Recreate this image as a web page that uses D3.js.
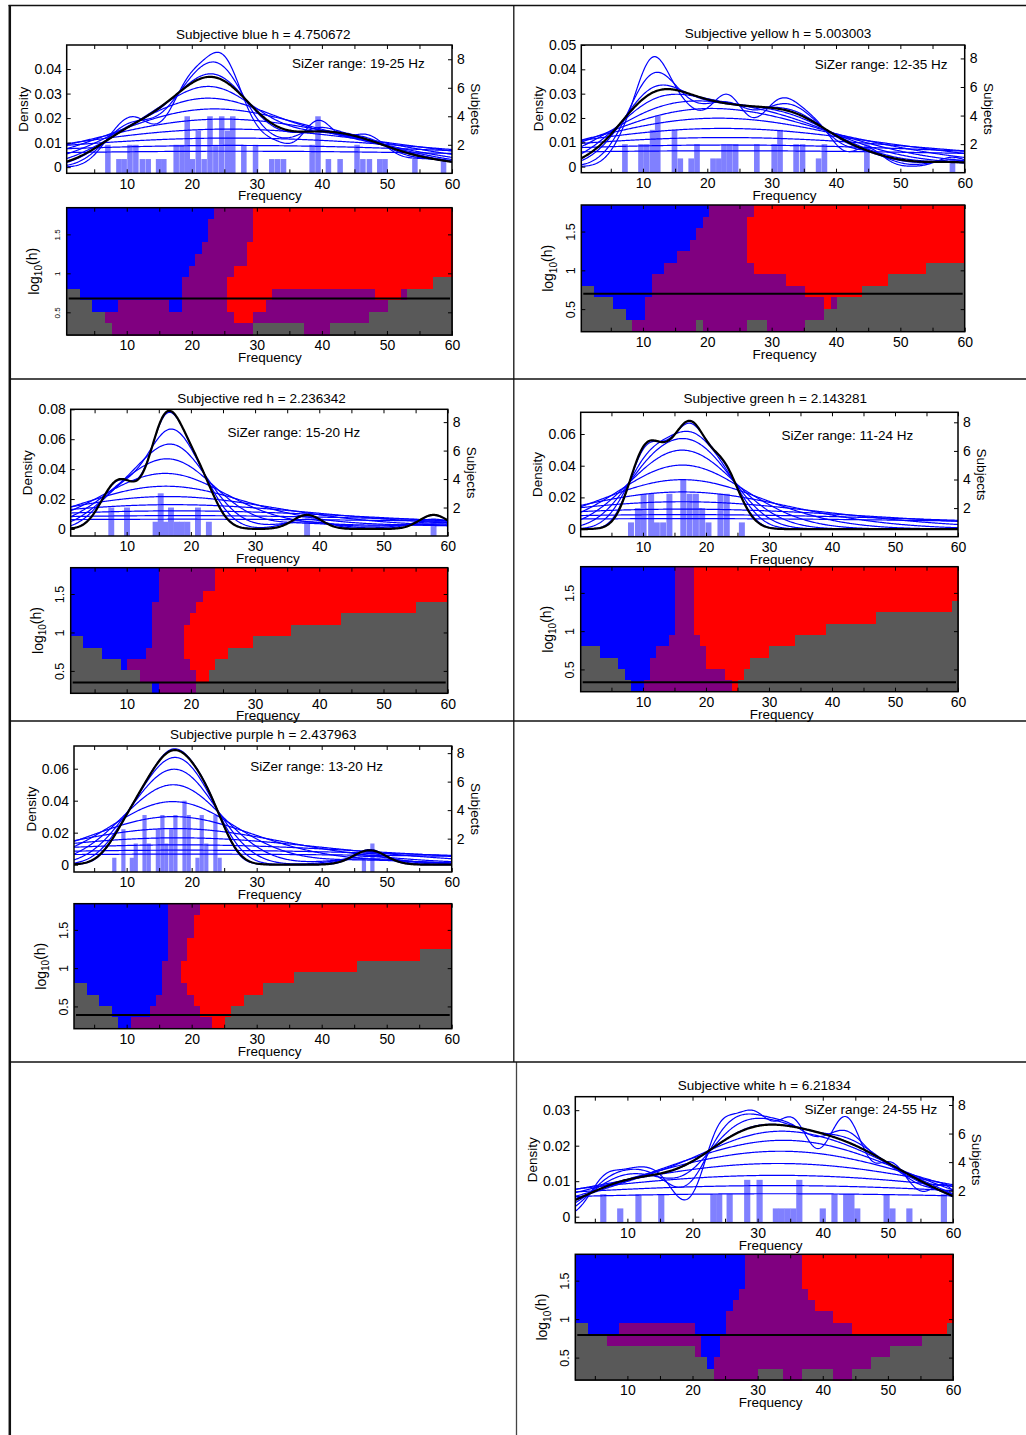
<!DOCTYPE html>
<html><head><meta charset="utf-8">
<script src="https://cdn.jsdelivr.net/npm/d3@7"></script>
<style>
body{margin:0;background:#fff;}
svg text{font-family:"Liberation Sans",Arial,Helvetica,sans-serif;fill:#000;}
</style></head><body>
<svg id="fig" width="1026" height="1435"></svg>
<script>
// ================= DATA =================
const colourNames = ["blue", "yellow", "red", "green", "purple", "white"];
const bandwidthLabels = ["4.750672", "5.003003", "2.236342", "2.143281", "2.437963", "6.21834"];
const sizerRanges = ["19-25", "12-35", "15-20", "11-24", "13-20", "24-55"];
const binWidths = [0.85, 0.88, 0.92, 0.95, 0.65, 0.95];

// histogram bars: [frequency (Hz), number of subjects]
const barsBlue = [[7.1,2],[8.8,1],[9.6,1],[10.5,2],[11.4,2],[12.4,1],[13.3,1],[14.9,1],[15.7,1],[17.6,2],[18.5,2],[19.3,4],[20.1,1],[21.0,3],[21.9,1],[22.8,4],[23.7,2],[24.6,4],[25.5,3],[26.3,4],[28.0,2],[29.8,2],[32.3,1],[33.2,1],[34.1,1],[38.5,2],[39.4,4],[41.0,1],[42.8,1],[45.4,2],[46.3,1],[47.3,1],[48.9,1],[49.7,1],[54.3,1],[58.7,1]];
const barsYellow = [[7.2,2],[9.7,2],[10.6,2],[11.5,3],[12.3,4],[14.9,3],[15.8,1],[17.5,1],[18.4,2],[20.9,1],[21.8,1],[22.6,2],[23.5,2],[24.4,2],[27.7,2],[30.4,2],[31.3,3],[33.8,2],[34.8,2],[37.3,1],[38.2,2],[44.8,2],[58.1,1]];
const barsRed = [[7.6,2],[10.05,2],[14.5,1],[15.3,3],[16.0,1],[16.9,2],[17.8,1],[18.6,1],[19.45,1],[21.1,2],[22.8,1],[38.1,1],[57.8,1]];
const barsGreen = [[8.1,1],[9.2,2],[10.1,3],[11.3,3],[12.2,1],[13.2,1],[14.2,3],[16.4,4],[17.4,3],[18.4,3],[19.4,2],[20.4,1],[22.3,3],[23.3,3],[25.7,1]];
const barsPurple = [[8.1,1],[9.5,3],[10.8,1],[11.4,2],[12.75,4],[13.4,2],[14.8,3],[15.5,4],[16.1,2],[16.85,3],[17.5,4],[18.9,5],[19.55,4],[20.9,1],[21.55,4],[22.25,2],[23.65,4],[24.3,1],[46.5,1],[47.8,2]];
const barsWhite = [[6.3,2],[8.9,1],[11.7,2],[15.2,2],[23.2,2],[24.1,2],[25.7,2],[28.4,3],[30.3,3],[32.8,1],[33.7,1],[34.6,1],[35.5,1],[36.4,3],[40.0,1],[41.8,2],[43.6,2],[44.4,2],[45.3,1],[49.8,2],[50.7,1],[53.3,1],[58.6,2]];

// bandwidths of the blue family of density estimates
const familyBandwidths = [2.3, 3.2, 4.4, 6.1, 8.5, 11.8, 16.3, 22.6, 31.3, 43.4, 60.2];

// tick values
const densityTicks = [
  [0, 0.01, 0.02, 0.03, 0.04],
  [0, 0.01, 0.02, 0.03, 0.04, 0.05],
  [0, 0.02, 0.04, 0.06, 0.08],
  [0, 0.02, 0.04, 0.06],
  [0, 0.02, 0.04, 0.06],
  [0, 0.01, 0.02, 0.03]
];
const subjectTicks = [2, 4, 6, 8];
const freqTickLabels = [10, 20, 30, 40, 50, 60];
const freqMinorTicks = [5, 10, 15, 20, 25, 30, 35, 40, 45, 50, 55, 60];
const logHTicks = [0.5, 1, 1.5];
const logHDomain = [0.209, 1.842];

// SiZer maps, top row (largest h) first. B = increasing, R = decreasing,
// P = not significant, G = too few data; number = run of cells (60 per row)
const sizerBlue = ["B23P6R31","B22P7R31","B22P7R31","B21P7R32","B20P8R32","B19P7R34","B18P7R32G3","G2B16P7R7P16R4P1G7","G4B4P8B2P7R6P19G10","G6P20R3P18G13","G7P22G8P4G19"];
const sizerYellow = ["B20P7R33","B19P7R34","B18P8R34","B17P9R34","B15P11R34","B13P14R27G6","B11P21R16G12","G2B9P24R9G16","G5B5P28R1P1G20","G7B3P28G22","G8P10G1P7G3P6G25"];
const sizerRed = ["B14P9R37","B14P9R37","B14P7R39","B13P7R35G5","B13P6R24G17","B13P5R17G25","G2B11P5R11G31","G5B7P6R7G35","G8B1P10R4G37","G11P9R2G38","G13B1P6G40"];
const sizerGreen = ["B15P3R42","B15P3R42","B15P3R42","B15P3R41G1","B15P3R29G13","B15P3R21G21","B14P5R15G26","G3B9P8R10G30","G6B5P9R7G33","G7B4P12R3G34","G8B2P14R1G35"];
const sizerPurple = ["B15P5R40","B15P4R41","B15P4R41","B15P3R42","B15P3R37G5","B14P3R28G15","B14P3R18G25","G2B12P4R12G30","G4B9P6R8G33","G6B6P8R5G35","G7B2P13R2G36"];
const sizerWhite = ["B27P9R24","B27P9R24","B27P9R24","B26P11R23","B25P13R22","B24P17R19","G2B5P12B5P20R15G1","G5P15B3P32G5","G19P1B3P27G10","G21B1P25G13","G22P7G4P3G5P3G16"];

const allBars = [barsBlue, barsYellow, barsRed, barsGreen, barsPurple, barsWhite];
const allSizer = [sizerBlue, sizerYellow, sizerRed, sizerGreen, sizerPurple, sizerWhite];

// ================= LAYOUT (positions / styles) =================
const layout = [
  {den:[66.7,45,452,173.3],    siz:[66.7,207.7,452,335],    x0:0.77, yL:[-0.0025,0.0498], yR:[0,9.0],     note:[35.4,0.0423], tickFont:8,    titleGap:6.5},
  {den:[581.3,45,964.7,172.7], siz:[581.3,205,964.7,331.7], x0:0.42, yL:[-0.0025,0.05],   yR:[0,8.94],    note:[36.7,0.042],  tickFont:12.5, titleGap:7},
  {den:[70.7,409.3,447.7,536], siz:[70.7,567.7,447.7,693.3],x0:1.28, yL:[-0.0047,0.08],   yR:[0,8.9],     note:[25.7,0.0646], tickFont:12.5, titleGap:6},
  {den:[580.7,412.3,958,536.7],siz:[580.7,566.7,958,691.7], x0:0.12, yL:[-0.0048,0.0737], yR:[0,8.7],     note:[32,0.0594],   tickFont:12.5, titleGap:9.5},
  {den:[74,746,451.7,872],     siz:[74,903.7,451.7,1028.7], x0:1.9,  yL:[-0.0046,0.0742], yR:[-0.34,8.5], note:[29,0.0615],   tickFont:12.5, titleGap:7},
  {den:[575.3,1096.7,953,1222.7],siz:[575.3,1254.3,953,1380],x0:2.0, yL:[-0.0017,0.0338], yR:[-0.24,8.58],note:[37.2,0.0303], tickFont:12.5, titleGap:6.5}
];
const sizerColours = {B:"#0000ff", R:"#ff0000", P:"#800080", G:"#595959"};
const FS = 13.5;      // titles / labels
const TFS = 14;       // tick labels

const svg = d3.select("#fig");

// ---- figure grid rules ----
const rules = svg.append("g").attr("stroke", "#111").attr("fill", "none");
rules.append("line").attr("x1", 8.5).attr("x2", 1026).attr("y1", 5.5).attr("y2", 5.5).attr("stroke-width", 1.5);
rules.append("line").attr("x1", 9.8).attr("x2", 9.8).attr("y1", 5).attr("y2", 1435).attr("stroke-width", 2.5);
rules.append("line").attr("x1", 513.8).attr("x2", 513.8).attr("y1", 5).attr("y2", 1062).attr("stroke-width", 1.3);
rules.append("line").attr("x1", 516.5).attr("x2", 516.5).attr("y1", 1062).attr("y2", 1435).attr("stroke-width", 1.3).attr("stroke", "#444");
[379, 721, 1062].forEach(y => rules.append("line").attr("x1", 9).attr("x2", 1026).attr("y1", y).attr("y2", y).attr("stroke-width", 1.3));

function kde(bars, h, xs) {
  const n = d3.sum(bars, d => d[1]);
  const k = 1 / (n * h * Math.sqrt(2 * Math.PI));
  return xs.map(x => [x, k * d3.sum(bars, ([c, m]) => m * Math.exp(-0.5 * ((x - c) / h) ** 2))]);
}

function styleAxis(sel, fs) {
  sel.attr("font-family", null).attr("font-size", null);
  sel.select(".domain").remove();
  sel.selectAll(".tick line").attr("stroke", "#000");
  sel.selectAll(".tick text").attr("font-size", fs).attr("fill", "#000");
}

colourNames.forEach((name, i) => {
  const p = layout[i];
  const bars = allBars[i];
  const h = +bandwidthLabels[i];
  const bw = binWidths[i];

  // ---------- density panel ----------
  const [L, T, R, B] = p.den;
  const x = d3.scaleLinear().domain([p.x0, 60]).range([L, R]);
  const yL = d3.scaleLinear().domain(p.yL).range([B, T]);
  const yR = d3.scaleLinear().domain(p.yR).range([B, T]);
  const g = svg.append("g");
  const clipId = "clip" + i;
  g.append("clipPath").attr("id", clipId).append("rect").attr("x", L).attr("y", T).attr("width", R - L).attr("height", B - T);
  const plot = g.append("g").attr("clip-path", `url(#${clipId})`);

  plot.append("g").selectAll("rect").data(bars).join("rect")
    .attr("x", d => x(d[0] - bw / 2))
    .attr("width", d => x(d[0] + bw / 2) - x(d[0] - bw / 2))
    .attr("y", d => B - (yR(0) - yR(d[1])))
    .attr("height", d => yR(0) - yR(d[1]))
    .attr("fill", "#8080ff");

  const xs = d3.range(0, 401).map(k => p.x0 + k * (60 - p.x0) / 400);
  const line = d3.line().x(d => x(d[0])).y(d => yL(d[1]));
  plot.append("g").selectAll("path").data(familyBandwidths).join("path")
    .attr("d", hb => line(kde(bars, hb, xs)))
    .attr("fill", "none").attr("stroke", "#0000ff").attr("stroke-width", 1.2);
  plot.append("path").attr("d", line(kde(bars, h, xs)))
    .attr("fill", "none").attr("stroke", "#000").attr("stroke-width", 2.2);

  g.append("rect").attr("x", L).attr("y", T).attr("width", R - L).attr("height", B - T)
    .attr("fill", "none").attr("stroke", "#000").attr("stroke-width", 1.5);

  const fmtX = d => freqTickLabels.includes(d) ? d : "";
  const minor = freqMinorTicks.filter(v => v >= p.x0);
  g.append("g").attr("transform", `translate(0,${B})`)
    .call(d3.axisBottom(x).tickValues(minor).tickSize(-4).tickPadding(5.5).tickFormat(fmtX)).call(styleAxis, TFS);
  g.append("g").attr("transform", `translate(0,${T})`)
    .call(d3.axisTop(x).tickValues(minor).tickSize(-4).tickFormat("")).call(styleAxis, TFS);
  g.append("g").attr("transform", `translate(${L},0)`)
    .call(d3.axisLeft(yL).tickValues(densityTicks[i]).tickSize(-4).tickPadding(5).tickFormat(d => String(d))).call(styleAxis, TFS);
  g.append("g").attr("transform", `translate(${R},0)`)
    .call(d3.axisRight(yR).tickValues(subjectTicks).tickSize(-4).tickPadding(5).tickFormat(d => String(d))).call(styleAxis, TFS);

  g.append("text").attr("x", x(31)).attr("y", T - p.titleGap).attr("text-anchor", "middle").attr("font-size", FS)
    .text(`Subjective ${name} h = ${bandwidthLabels[i]}`);
  g.append("text").attr("x", x(p.note[0])).attr("y", yL(p.note[1])).attr("dy", "0.35em").attr("font-size", FS)
    .text(`SiZer range: ${sizerRanges[i]} Hz`);
  g.append("text").attr("x", x(32)).attr("y", B + 27).attr("text-anchor", "middle").attr("font-size", FS).text("Frequency");
  g.append("text").attr("transform", `translate(${L - 43},${(T + B) / 2}) rotate(-90)`).attr("dy", "0.35em")
    .attr("text-anchor", "middle").attr("font-size", FS).text("Density");
  g.append("text").attr("transform", `translate(${R + 24},${(T + B) / 2}) rotate(90)`).attr("dy", "0.35em")
    .attr("text-anchor", "middle").attr("font-size", FS).text("Subjects");

  // ---------- SiZer map ----------
  const [L2, T2, R2, B2] = p.siz;
  const xs2 = d3.scaleLinear().domain([p.x0, 60]).range([L2, R2]);
  const yS = d3.scaleLinear().domain(logHDomain).range([B2, T2]);
  const rows = allSizer[i];
  const nCols = 60;
  const cellW = (60 - p.x0) / nCols;
  const rowH = (logHDomain[1] - logHDomain[0]) / rows.length;
  const cells = [];
  rows.forEach((str, r) => {
    let col = 0;
    for (const m of str.matchAll(/([BPRG])(\d+)/g)) {
      const n = +m[2];
      cells.push({r, c0: col, n, code: m[1]});
      col += n;
    }
  });
  const s = svg.append("g");
  s.append("g").attr("shape-rendering", "crispEdges").selectAll("rect").data(cells).join("rect")
    .attr("x", d => xs2(p.x0 + d.c0 * cellW))
    .attr("width", d => xs2(p.x0 + (d.c0 + d.n) * cellW) - xs2(p.x0 + d.c0 * cellW) + 0.5)
    .attr("y", d => yS(logHDomain[1] - d.r * rowH))
    .attr("height", d => yS(logHDomain[1] - (d.r + 1) * rowH) - yS(logHDomain[1] - d.r * rowH) + 0.5)
    .attr("fill", d => sizerColours[d.code]);
  s.append("line").attr("x1", xs2(p.x0) + 2).attr("x2", xs2(60) - 2)
    .attr("y1", yS(Math.log10(h))).attr("y2", yS(Math.log10(h)))
    .attr("stroke", "#000").attr("stroke-width", 2);
  s.append("rect").attr("x", L2).attr("y", T2).attr("width", R2 - L2).attr("height", B2 - T2)
    .attr("fill", "none").attr("stroke", "#000").attr("stroke-width", 1.5);
  s.append("g").attr("transform", `translate(0,${B2})`)
    .call(d3.axisBottom(xs2).tickValues(minor).tickSize(-4).tickPadding(5.5).tickFormat(fmtX)).call(styleAxis, TFS);
  s.append("g").attr("transform", `translate(0,${T2})`)
    .call(d3.axisTop(xs2).tickValues(minor).tickSize(-4).tickFormat("")).call(styleAxis, TFS);
  const ly = s.append("g").attr("transform", `translate(${L2},0)`)
    .call(d3.axisLeft(yS).tickValues(logHTicks).tickSize(-4).tickFormat(d => String(d))).call(styleAxis, p.tickFont);
  ly.selectAll(".tick text").attr("x", null).attr("dy", null).attr("text-anchor", "middle")
    .attr("transform", "translate(-6.5,0) rotate(-90)");
  s.append("g").attr("transform", `translate(${R2},0)`)
    .call(d3.axisRight(yS).tickValues(logHTicks).tickSize(-4).tickFormat("")).call(styleAxis, TFS);
  s.append("text").attr("x", xs2(32)).attr("y", B2 + 27).attr("text-anchor", "middle").attr("font-size", FS).text("Frequency");
  const lab = s.append("text").attr("transform", `translate(${L2 - 33},${(T2 + B2) / 2}) rotate(-90)`)
    .attr("dy", "0.35em").attr("text-anchor", "middle").attr("font-size", 14);
  lab.append("tspan").text("log");
  lab.append("tspan").attr("font-size", 10).attr("dy", "0.35em").text("10");
  lab.append("tspan").attr("dy", "-0.35em").text("(h)");
});
</script>
</body></html>
